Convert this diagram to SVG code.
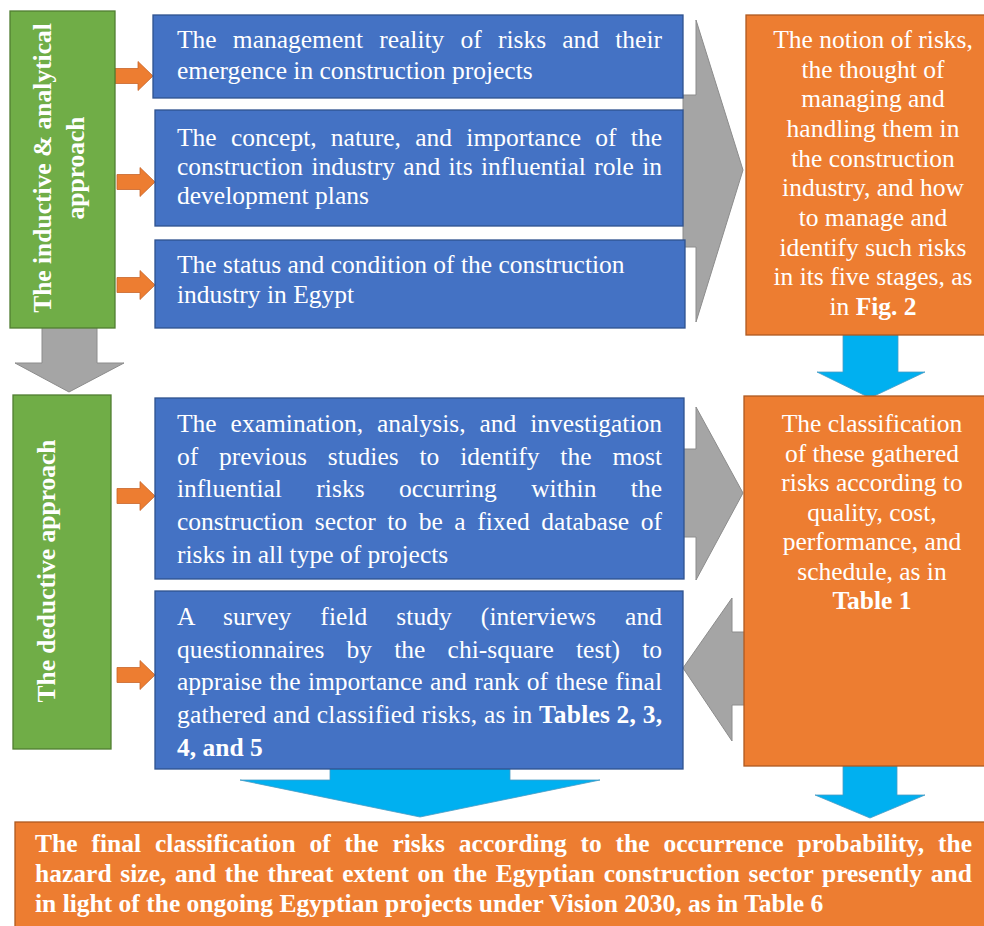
<svg xmlns="http://www.w3.org/2000/svg" width="984" height="926" viewBox="0 0 984 926">
<defs>
<style>
.blue{fill:#4472C4;stroke:#2F528F;stroke-width:1.3}
.org{fill:#ED7D31;stroke:#AE5A21;stroke-width:1.3}
.grn{fill:#70AD47;stroke:#507E32;stroke-width:1.3}
.gray{fill:#A5A5A5;stroke:#8C8C8C;stroke-width:1}
.lb{fill:#00B0F0;stroke:#4A9CC4;stroke-width:0.8}
.oa{fill:#ED7D31;stroke:#C8652A;stroke-width:0.8}
text{font-family:"Liberation Serif","Times New Roman","DejaVu Serif",serif;font-size:25.5px;fill:#FFFFFF}
.b{font-weight:bold}
.c{text-anchor:middle}
</style>
<path id="oarrow" class="oa" d="M0,-7.5 H23 V-14.5 L38,0 L23,14.5 V7.5 H0 Z"/>
</defs>
<rect width="984" height="926" fill="#FFFFFF"/>
<g id="connectors">
<path class="gray" d="M683,95 H696 V20 L743,170 L696,322 V247 H683 Z"/>
<path class="gray" d="M683,449 H696 V407 L743,493 L696,580 V537 H683 Z"/>
<path class="gray" d="M800,632 H732 V598 L683,668 L732,741 V705 H800 Z"/>
<path class="gray" d="M42,300 V363 H15 L69,392 L124,363 H97 V300 Z"/>
<path class="lb" d="M843,300 V372 H817 L870,398 L925,372 H898 V300 Z"/>
<path class="lb" d="M843,700 V795 H815 L870,818 L925,795 H897 V700 Z"/>
<path class="lb" d="M330,700 V780 H240 L420,817 L600,780 H510 V700 Z"/>
<use href="#oarrow" transform="translate(115,76)"/>
<use href="#oarrow" transform="translate(117,182)"/>
<use href="#oarrow" transform="translate(117,285)"/>
<use href="#oarrow" transform="translate(117,496)"/>
<use href="#oarrow" transform="translate(117,675)"/>
</g>
<g id="inductive">
<rect class="grn" x="10" y="11" width="105" height="317"/>
<text class="b c" transform="translate(51,168) rotate(-90)">The inductive &amp; analytical</text>
<text class="b c" transform="translate(84,168) rotate(-90)">approach</text>
</g>
<g id="deductive">
<rect class="grn" x="13" y="395" width="98" height="354"/>
<text class="b c" transform="translate(55,571) rotate(-90)">The deductive approach</text>
</g>
<g id="box-management">
<rect class="blue" x="153" y="15" width="530" height="83"/>
<text x="177" y="48" textLength="485" lengthAdjust="spacing" style="word-spacing:9.8px">The management reality of risks and their</text>
<text x="177" y="79">emergence in construction projects</text>
</g>
<g id="box-concept">
<rect class="blue" x="155" y="110" width="528" height="116"/>
<text x="177" y="146" textLength="485" lengthAdjust="spacing" style="word-spacing:7.9px">The concept, nature, and importance of the</text>
<text x="177" y="175" textLength="485" lengthAdjust="spacing" style="word-spacing:2px">construction industry and its influential role in</text>
<text x="177" y="204">development plans</text>
</g>
<g id="box-status">
<rect class="blue" x="155" y="240" width="530" height="88"/>
<text x="177" y="273">The status and condition of the construction</text>
<text x="177" y="303">industry in Egypt</text>
</g>
<g id="box-examination">
<rect class="blue" x="155" y="398" width="529" height="181"/>
<text x="177" y="432" textLength="485" lengthAdjust="spacing" style="word-spacing:7.6px">The examination, analysis, and investigation</text>
<text x="177" y="465" textLength="485" lengthAdjust="spacing" style="word-spacing:14.5px">of previous studies to identify the most</text>
<text x="177" y="497" textLength="485" lengthAdjust="spacing" style="word-spacing:28px">influential risks occurring within the</text>
<text x="177" y="530" textLength="485" lengthAdjust="spacing" style="word-spacing:5.2px">construction sector to be a fixed database of</text>
<text x="177" y="563">risks in all type of projects</text>
</g>
<g id="box-survey">
<rect class="blue" x="155" y="591" width="528" height="178"/>
<text x="177" y="625" textLength="485" lengthAdjust="spacing" style="word-spacing:22.6px">A survey field study (interviews and</text>
<text x="177" y="658" textLength="485" lengthAdjust="spacing" style="word-spacing:15.8px">questionnaires by the chi-square test) to</text>
<text x="177" y="690" textLength="485" lengthAdjust="spacing" style="word-spacing:1px">appraise the importance and rank of these final</text>
<text x="177" y="723" textLength="485" lengthAdjust="spacing">gathered and classified risks, as in <tspan class="b">Tables 2, 3,</tspan></text>
<text x="177" y="756" class="b">4, and 5</text>
</g>
<g id="box-notion">
<rect class="org" x="746" y="15" width="260" height="320"/>
<text class="c" x="873" y="48">The notion of risks,</text>
<text class="c" x="873" y="77.7">the thought of</text>
<text class="c" x="873" y="107.3">managing and</text>
<text class="c" x="873" y="137">handling them in</text>
<text class="c" x="873" y="166.7">the construction</text>
<text class="c" x="873" y="196.3">industry, and how</text>
<text class="c" x="873" y="226">to manage and</text>
<text class="c" x="873" y="255.7">identify such risks</text>
<text class="c" x="873" y="285.3">in its five stages, as</text>
<text class="c" x="873" y="315">in <tspan class="b">Fig. 2</tspan></text>
</g>
<g id="box-classification">
<rect class="org" x="744" y="396" width="262" height="370"/>
<text class="c" x="872" y="432">The classification</text>
<text class="c" x="872" y="461.5">of these gathered</text>
<text class="c" x="872" y="491">risks according to</text>
<text class="c" x="872" y="520.5">quality, cost,</text>
<text class="c" x="872" y="550">performance, and</text>
<text class="c" x="872" y="579.5">schedule, as in</text>
<text class="c b" x="872" y="609">Table 1</text>
</g>
<g id="box-final">
<rect class="org" x="15" y="822" width="990" height="120"/>
<text class="b" x="35" y="852" textLength="937" lengthAdjust="spacing" style="word-spacing:7.4px">The final classification of the risks according to the occurrence probability, the</text>
<text class="b" x="35" y="882" textLength="937" lengthAdjust="spacing" style="word-spacing:2.2px">hazard size, and the threat extent on the Egyptian construction sector presently and</text>
<text class="b" x="35" y="912">in light of the ongoing Egyptian projects under Vision 2030, as in Table 6</text>
</g>
</svg>
